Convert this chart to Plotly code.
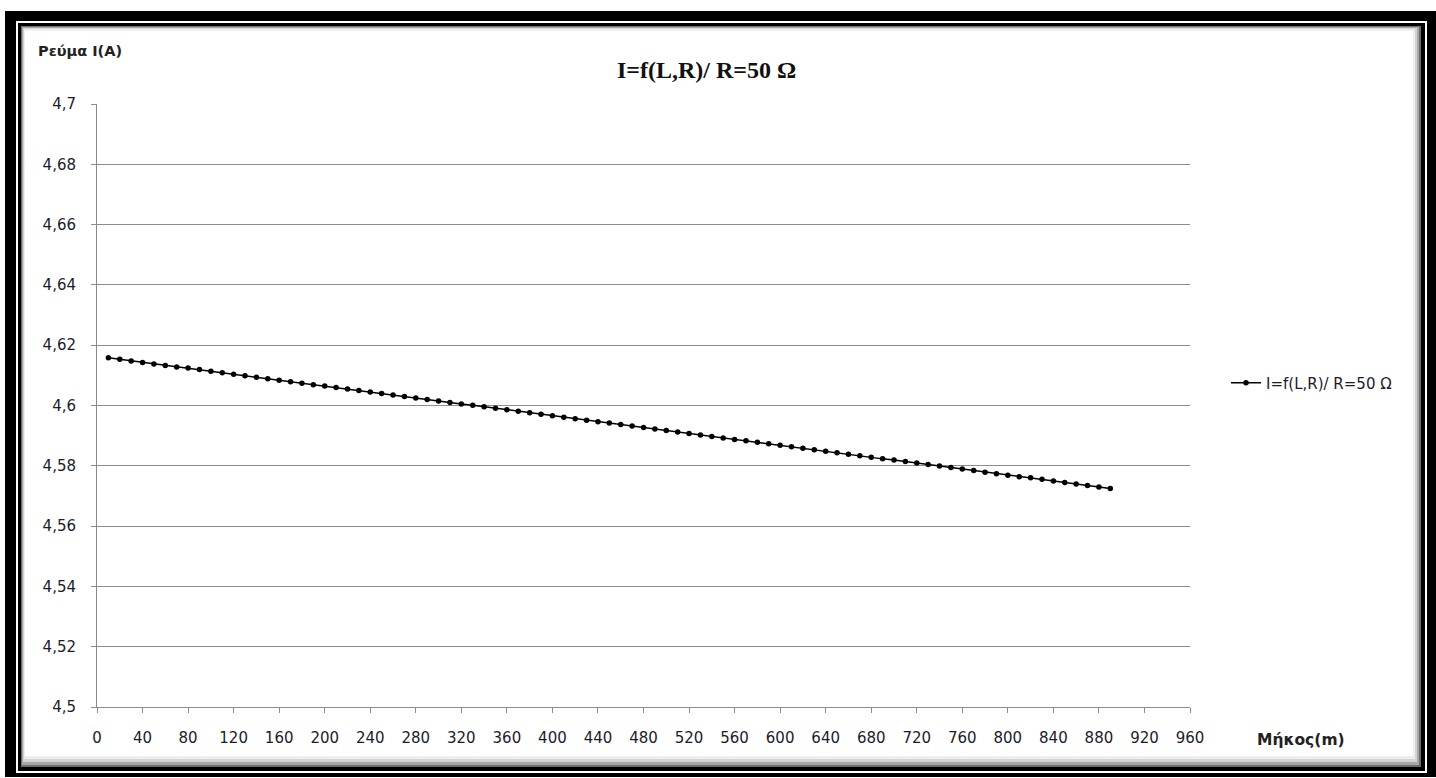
import plotly.graph_objects as go

# ---- data ----
length_m = [10, 20, 30, 40, 50, 60, 70, 80, 90, 100,
            110, 120, 130, 140, 150, 160, 170, 180, 190, 200,
            210, 220, 230, 240, 250, 260, 270, 280, 290, 300,
            310, 320, 330, 340, 350, 360, 370, 380, 390, 400,
            410, 420, 430, 440, 450, 460, 470, 480, 490, 500,
            510, 520, 530, 540, 550, 560, 570, 580, 590, 600,
            610, 620, 630, 640, 650, 660, 670, 680, 690, 700,
            710, 720, 730, 740, 750, 760, 770, 780, 790, 800,
            810, 820, 830, 840, 850, 860, 870, 880, 890]
current_a = [4.6158, 4.6153, 4.6148, 4.6143, 4.6138, 4.6133, 4.6128, 4.6124, 4.6119, 4.6114,
             4.6109, 4.6104, 4.6099, 4.6094, 4.6089, 4.6084, 4.6079, 4.6074, 4.6069, 4.6065,
             4.6060, 4.6055, 4.6050, 4.6045, 4.6040, 4.6035, 4.6030, 4.6025, 4.6020, 4.6015,
             4.6010, 4.6005, 4.6001, 4.5996, 4.5991, 4.5986, 4.5981, 4.5976, 4.5971, 4.5966,
             4.5961, 4.5956, 4.5951, 4.5946, 4.5942, 4.5937, 4.5932, 4.5927, 4.5922, 4.5917,
             4.5912, 4.5907, 4.5902, 4.5897, 4.5892, 4.5887, 4.5883, 4.5878, 4.5873, 4.5868,
             4.5863, 4.5858, 4.5853, 4.5848, 4.5843, 4.5838, 4.5833, 4.5828, 4.5823, 4.5819,
             4.5814, 4.5809, 4.5804, 4.5799, 4.5794, 4.5789, 4.5784, 4.5779, 4.5774, 4.5769,
             4.5764, 4.5760, 4.5755, 4.5750, 4.5745, 4.5740, 4.5735, 4.5730, 4.5725]

x_ticks = [0, 40, 80, 120, 160, 200, 240, 280, 320, 360, 400, 440, 480,
           520, 560, 600, 640, 680, 720, 760, 800, 840, 880, 920, 960]
y_ticks = [4.5, 4.52, 4.54, 4.56, 4.58, 4.6, 4.62, 4.64, 4.66, 4.68, 4.7]
y_tick_labels = ["4,5", "4,52", "4,54", "4,56", "4,58", "4,6", "4,62", "4,64", "4,66", "4,68", "4,7"]

series_name = "I=f(L,R)/ R=50 Ω"
title_text = "I=f(L,R)/ R=50 Ω"
y_title = "Ρεύμα I(A)"
x_title = "Μήκος(m)"

# ---- layout geometry (pixels) ----
W, H = 1436, 778
PL, PR, PT, PB = 97, 1190, 104, 707
pw, ph = PR - PL, PB - PT


def px(x):
    return (x - PL) / pw


def py(y):
    return (PB - y) / ph


FONT = "'DejaVu Sans', sans-serif"
TXT = "#1c1c2c"

fig = go.Figure()
fig.add_trace(go.Scatter(
    x=length_m, y=current_a, mode="lines+markers", name=series_name,
    line=dict(color="black", width=1.5),
    marker=dict(color="black", size=5.5, symbol="circle"),
))

shapes = []


def rect(x0, y0, x1, y1, color):
    shapes.append(dict(type="rect", xref="paper", yref="paper",
                       x0=px(x0), x1=px(x1), y0=py(y1), y1=py(y0),
                       fillcolor=color, line=dict(width=0), layer="below"))


rect(5, 11, 1440, 777, "black")
rect(16, 21, 1427, 773, "white")
rect(18, 23, 1425, 771, "black")
rect(21, 26, 1421, 767, "#6e6e6e")
rect(22, 27, 1419, 765, "#a8a8a8")
rect(23, 28, 1417, 762, "#d4d4d4")
rect(24, 29, 1415, 759, "#eeeeee")
rect(25, 31, 1413, 756, "white")

fig.update_layout(
    width=W, height=H,
    margin=dict(l=PL, r=W - PR, t=PT, b=H - PB),
    paper_bgcolor="white", plot_bgcolor="white",
    shapes=shapes,
    showlegend=True,
    legend=dict(x=px(1226), y=py(383), xanchor="left", yanchor="middle",
                bgcolor="rgba(0,0,0,0)", font=dict(family=FONT, size=15, color=TXT),
                itemwidth=30),
    xaxis=dict(range=[0, 960], tickvals=x_ticks, showgrid=False,
               showline=True, linecolor="#8c8c8c", linewidth=1,
               ticks="outside", ticklen=5, tickcolor="#8c8c8c",
               tickfont=dict(family=FONT, size=15, color=TXT),
               ticklabelstandoff=12, zeroline=False, mirror=False),
    yaxis=dict(range=[4.5, 4.7], tickvals=y_ticks, ticktext=y_tick_labels,
               showgrid=True, gridcolor="#8c8c8c", gridwidth=1,
               showline=True, linecolor="#8c8c8c", linewidth=1,
               ticks="outside", ticklen=5, tickcolor="#8c8c8c",
               tickfont=dict(family=FONT, size=15, color=TXT),
               ticklabelstandoff=12, zeroline=False),
    annotations=[
        dict(text="<b>" + title_text + "</b>", xref="paper", yref="paper",
             x=px(706), y=py(70), xanchor="center", yanchor="middle", showarrow=False,
             font=dict(family="'Liberation Serif', serif", size=24, color="#111111")),
        dict(text="<b>" + y_title + "</b>", xref="paper", yref="paper",
             x=px(36), y=py(51), xanchor="left", yanchor="middle", showarrow=False,
             font=dict(family=FONT, size=14.5, color="#222222")),
        dict(text="<b>" + x_title + "</b>", xref="paper", yref="paper",
             x=px(1255), y=py(740), xanchor="left", yanchor="middle", showarrow=False,
             font=dict(family=FONT, size=15.5, color="#222222")),
    ],
)

fig.write_html("out.html")
